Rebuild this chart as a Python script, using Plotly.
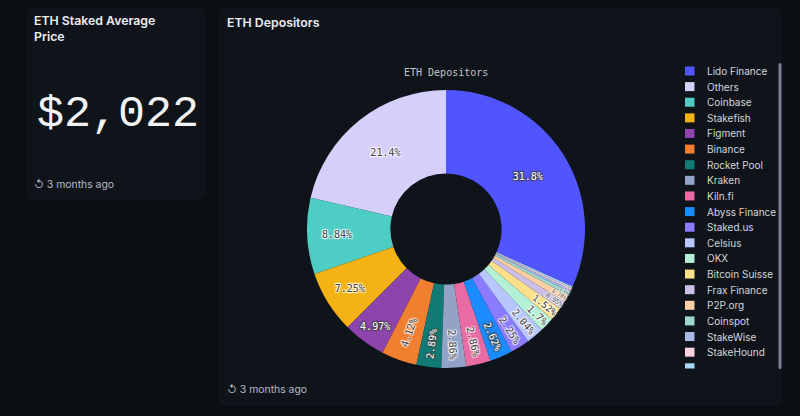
import plotly.graph_objects as go

W, H = 800, 416

labels = ["Lido Finance", "Others", "Coinbase", "Stakefish", "Figment", "Binance",
          "Rocket Pool", "Kraken", "Kiln.fi", "Abyss Finance", "Staked.us", "Celsius",
          "OKX", "Bitcoin Suisse", "Frax Finance", "P2P.org", "Coinspot", "StakeWise",
          "StakeHound", "Swell"]
values = [31.8, 21.4, 8.84, 7.25, 4.97, 4.12,
          2.89, 2.86, 2.86, 2.62, 2.25, 2.04,
          1.70, 1.52, 0.95, 0.78, 0.45, 0.30,
          0.20, 0.20]
colors = ["#5055ff", "#d5cffa", "#4ecdc4", "#f4b214", "#8e44ad", "#f07f2f",
          "#117a75", "#93a3c8", "#e96ba3", "#1a8cff", "#8b7cff", "#b8c6ff",
          "#b3f0d5", "#fbe08a", "#cbbfe8", "#ffcfa3", "#9fd8cc", "#a7b9e8",
          "#ffd0e0", "#a6d8f7"]

price_text = "$2,022"
price_title = "ETH Staked Average<br>Price"
chart_title = "ETH Depositors"
updated = "3 months ago"

BG = "#0b0f14"
PANEL = "#0f141b"


def px(x):
    return x / W


def py(y):
    return 1 - y / H


def rrect(x0, y0, x1, y1, r):
    X0, X1 = px(x0), px(x1)
    Y0, Y1 = py(y0), py(y1)
    rx, ry = r / W, r / H
    return (f"M {X0+rx},{Y0} L {X1-rx},{Y0} Q {X1},{Y0} {X1},{Y0-ry} "
            f"L {X1},{Y1+ry} Q {X1},{Y1} {X1-rx},{Y1} L {X0+rx},{Y1} "
            f"Q {X0},{Y1} {X0},{Y1+ry} L {X0},{Y0-ry} Q {X0},{Y0} {X0+rx},{Y0} Z")


cx, cy, R = 446, 229, 139

fig = go.Figure()
fig.add_trace(go.Pie(
    labels=labels, values=values, sort=False, direction="counterclockwise",
    rotation=0, hole=0.4,
    marker=dict(colors=colors, line=dict(width=0)),
    texttemplate="%{percent:.3~p}", textposition="inside",
    insidetextorientation="auto",
    insidetextfont=dict(family="DejaVu Sans Mono", size=10, shadow="auto"),
    domain=dict(x=[px(cx - R), px(cx + R)], y=[py(cy + R), py(cy - R)]),
    showlegend=False,
))

sans = "Inter, Noto Sans, sans-serif"
shapes = [
    dict(type="path", path=rrect(27, 8, 206, 200, 7), xref="paper", yref="paper",
         fillcolor=PANEL, line=dict(width=0), layer="below"),
    dict(type="path", path=rrect(219, 8, 782, 406, 7), xref="paper", yref="paper",
         fillcolor=PANEL, line=dict(width=0), layer="below"),
    # legend scrollbar
    dict(type="path", path=rrect(778.5, 63, 781.5, 369, 1.5), xref="paper", yref="paper",
         fillcolor="#7b7e98", line=dict(width=0)),
]
annotations = [
    dict(x=px(31.5), y=py(29), text=price_title, showarrow=False,
         xanchor="left", yanchor="middle", align="left",
         font=dict(family=sans, size=12.3, weight=600, color="#ececf0")),
    dict(x=px(35), y=py(114), text=price_text, showarrow=False,
         xanchor="left", yanchor="middle",
         font=dict(family="Liberation Mono", size=45, color="#f2f2f2")),
    dict(x=px(31.5), y=py(184), text="↺ " + updated, showarrow=False,
         xanchor="left", yanchor="middle",
         font=dict(family=sans, size=10.4, color="#b8bcc4")),
    dict(x=px(224.5), y=py(22), text=chart_title, showarrow=False,
         xanchor="left", yanchor="middle",
         font=dict(family=sans, size=12.3, weight=600, color="#ececf0")),
    dict(x=px(446), y=py(72), text=chart_title, showarrow=False,
         xanchor="center", yanchor="middle",
         font=dict(family="DejaVu Sans Mono", size=10, color="#c0c4cc")),
    dict(x=px(224.5), y=py(389), text="↺ " + updated, showarrow=False,
         xanchor="left", yanchor="middle",
         font=dict(family=sans, size=10.4, color="#b8bcc4")),
]

# legend (scrolled list, clipped at the bottom)
leg_top, leg_step, leg_bottom = 71, 15.62, 368.5
for i, (lab, col) in enumerate(zip(labels, colors)):
    yc = leg_top + i * leg_step
    y0, y1 = yc - 4.5, yc + 4.5
    if y0 >= leg_bottom:
        break
    y1 = min(y1, leg_bottom)
    shapes.append(dict(type="rect", xref="paper", yref="paper",
                       x0=px(685), x1=px(694.5), y0=py(y1), y1=py(y0),
                       fillcolor=col, line=dict(width=0)))
    if yc + 4 < leg_bottom:
        annotations.append(dict(x=px(705), y=py(yc), text=lab, showarrow=False,
                                xanchor="left", yanchor="middle",
                                font=dict(family=sans, size=10, color="#d4d6dc")))

fig.update_layout(
    width=W, height=H, margin=dict(l=0, r=0, t=0, b=0),
    paper_bgcolor=BG, plot_bgcolor=BG,
    shapes=shapes, annotations=annotations,
    showlegend=False,
)

fig.write_html("out.html", post_script="document.body.style.margin='0';",
               config={"displayModeBar": False})
